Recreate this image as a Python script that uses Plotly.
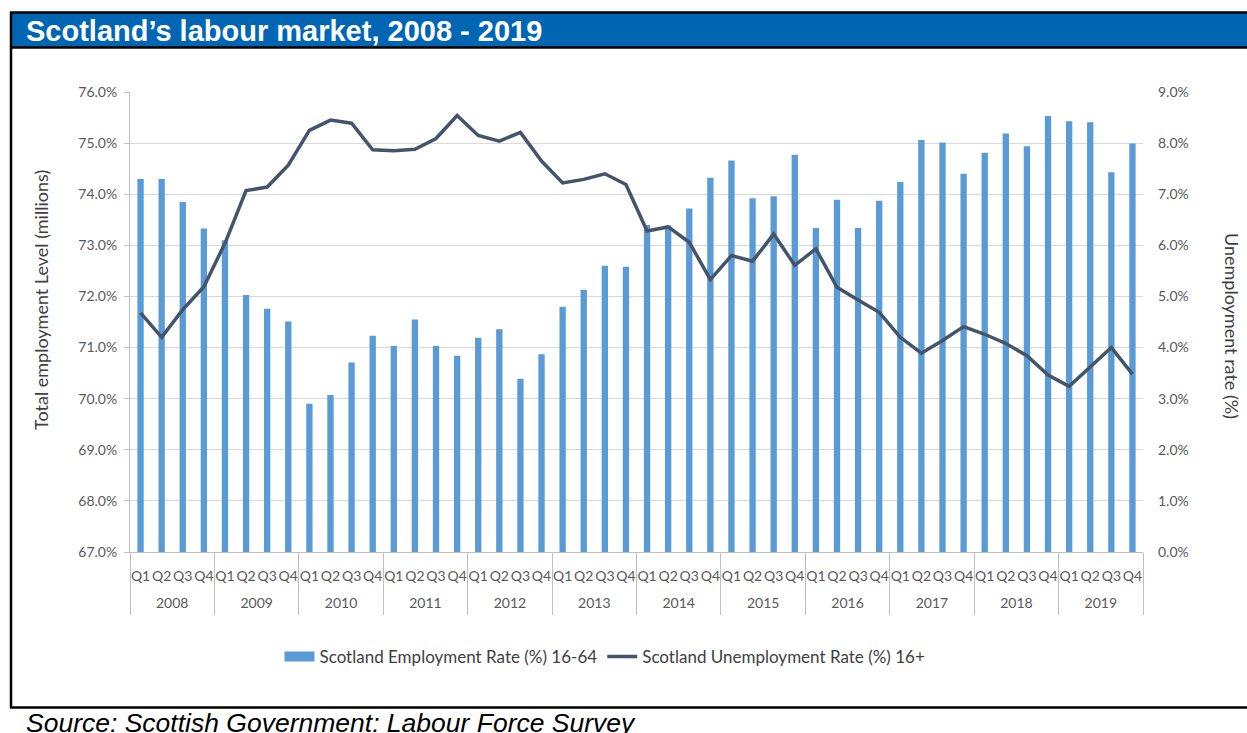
import plotly.graph_objects as go

years = [str(y) for y in range(2008, 2020)]
quarters = ["Q1", "Q2", "Q3", "Q4"]

employment_rate = [
    74.30, 74.30, 73.85, 73.33,
    73.10, 72.03, 71.76, 71.51,
    69.90, 70.07, 70.71, 71.23,
    71.03, 71.55, 71.03, 70.84,
    71.19, 71.36, 70.39, 70.87,
    71.80, 72.13, 72.60, 72.58,
    73.40, 73.39, 73.72, 74.32,
    74.66, 73.92, 73.96, 74.77,
    73.34, 73.89, 73.34, 73.87,
    74.24, 75.06, 75.01, 74.40,
    74.81, 75.19, 74.94, 75.53,
    75.43, 75.41, 74.43, 74.99,
]

unemployment_rate = [
    4.68, 4.20, 4.74, 5.19,
    6.04, 7.07, 7.14, 7.57,
    8.25, 8.45, 8.39, 7.87,
    7.85, 7.88, 8.09, 8.54,
    8.15, 8.04, 8.21, 7.65,
    7.22, 7.29, 7.40, 7.19,
    6.28, 6.36, 6.06, 5.33,
    5.80, 5.69, 6.22, 5.61,
    5.93, 5.18, 4.93, 4.69,
    4.20, 3.89, 4.14, 4.41,
    4.26, 4.08, 3.84, 3.46,
    3.24, 3.63, 4.00, 3.48,
]

# one unique category per quarter; displayed with the quarter label only
categories = [f"{y} {q}" for y in years for q in quarters]
quarter_labels = [q for y in years for q in quarters]
n_cat = len(categories)
nq = len(quarters)
# year label centres and year boundaries in category-index units
year_centres = [i * nq + (nq - 1) / 2 for i in range(len(years))]
year_bounds = [i * nq - 0.5 for i in range(len(years) + 1)]

EMP_NAME = "Scotland Employment Rate (%) 16-64"
UNEMP_NAME = "Scotland Unemployment Rate (%) 16+"
BAR_COLOR = "#5B9BD5"
LINE_COLOR = "#44546A"
AXIS_GREY = "#BFBFBF"

W, H = 1247, 733
L, R, T, B = 130, 1143, 92, 552


def px(x):
    return (x - L) / (R - L)


def py(y):
    return (B - y) / (B - T)


fig = go.Figure()
fig.add_trace(go.Bar(
    x=categories, y=employment_rate,
    name=EMP_NAME, showlegend=False,
    marker=dict(color=BAR_COLOR, line=dict(width=0)),
    width=0.3, xaxis="x", yaxis="y",
))
# legend-only entry giving the wide rectangular swatch of the bar series
fig.add_trace(go.Scatter(
    x=[year_centres[0]], y=[None],
    name=EMP_NAME, mode="lines", line=dict(color=BAR_COLOR, width=10),
    xaxis="x2", yaxis="y", hoverinfo="skip",
))
fig.add_trace(go.Scatter(
    x=categories, y=unemployment_rate,
    name=UNEMP_NAME,
    mode="lines", line=dict(color=LINE_COLOR, width=3.5),
    xaxis="x", yaxis="y2",
))

axis_font = dict(family="Lato", size=14, color="#595959")

shapes = [
    dict(type="rect", xref="paper", yref="paper", x0=px(11), x1=px(1260), y0=py(13), y1=py(47),
         fillcolor="#0066B3", line=dict(width=0), layer="above"),
    dict(type="line", xref="paper", yref="paper", x0=px(10), x1=px(1260), y0=py(12.5), y1=py(12.5),
         line=dict(color="black", width=2.5)),
    dict(type="line", xref="paper", yref="paper", x0=px(10), x1=px(1260), y0=py(47.5), y1=py(47.5),
         line=dict(color="black", width=2.5)),
    dict(type="line", xref="paper", yref="paper", x0=px(11), x1=px(11), y0=py(12), y1=py(708),
         line=dict(color="black", width=2.5)),
    dict(type="line", xref="paper", yref="paper", x0=px(10), x1=px(1260), y0=py(707.5), y1=py(707.5),
         line=dict(color="black", width=2.5)),
]

annotations = [
    dict(text="<b>Scotland’s labour market, 2008 - 2019</b>", xref="paper", yref="paper",
         x=px(24), y=py(31), xanchor="left", yanchor="middle", showarrow=False,
         font=dict(family="Liberation Sans", size=29, color="white")),
    dict(text="<i>Source: Scottish Government: Labour Force Survey</i>", xref="paper", yref="paper",
         x=px(24), y=py(706), xanchor="left", yanchor="top", showarrow=False,
         font=dict(family="Liberation Sans", size=26.5, color="black")),
    dict(text="Total employment Level (millions)", xref="paper", yref="paper",
         x=px(41), y=py(300), xanchor="center", yanchor="middle", textangle=-90, showarrow=False,
         font=dict(family="Lato", size=18, color="#404040")),
    dict(text="Unemployment rate (%)", xref="paper", yref="paper",
         x=px(1232), y=py(326), xanchor="center", yanchor="middle", textangle=90, showarrow=False,
         font=dict(family="Lato", size=18, color="#404040")),
]

fig.update_layout(
    width=W, height=H,
    margin=dict(l=L, r=W - R, t=T, b=H - B, pad=0),
    paper_bgcolor="white", plot_bgcolor="white",
    showlegend=True,
    legend=dict(orientation="h", x=px(605), y=py(657), xanchor="center", yanchor="middle",
                font=dict(family="Lato", size=17, color="#404040"), bgcolor="rgba(0,0,0,0)",
                itemwidth=30, tracegroupgap=0),
    xaxis=dict(type="category", range=[-0.5, n_cat - 0.5],
               tickmode="array", tickvals=categories, ticktext=quarter_labels,
               showline=True, linecolor=AXIS_GREY, linewidth=1,
               tickfont=axis_font, tickangle=0, showgrid=False, ticks="",
               ticklabelstandoff=11),
    xaxis2=dict(type="linear", overlaying="x", anchor="y", side="bottom",
                range=[-0.5, n_cat - 0.5],
                tickmode="array", tickvals=year_centres, ticktext=years,
                tickfont=axis_font, tickangle=0, showgrid=False, zeroline=False,
                showline=False, ticks="", ticklabelstandoff=41,
                minor=dict(tickmode="array", tickvals=year_bounds, ticks="outside",
                           ticklen=62, tickcolor=AXIS_GREY, tickwidth=1, showgrid=False)),
    yaxis=dict(range=[67, 76], dtick=1, tick0=67, tickformat=".1f", ticksuffix="%",
               showgrid=True, gridcolor="#D9D9D9", gridwidth=1, zeroline=False,
               showline=True, linecolor=AXIS_GREY, linewidth=1,
               ticks="outside", ticklen=5, tickcolor=AXIS_GREY, tickfont=axis_font,
               ticklabelstandoff=4),
    yaxis2=dict(range=[0, 9], dtick=1, tick0=0, tickformat=".1f", ticksuffix="%",
                overlaying="y", side="right", showgrid=False, zeroline=False,
                showline=False, ticks="", tickfont=axis_font, ticklabelstandoff=14),
    shapes=shapes,
    annotations=annotations,
)

fig.write_html("out.html", config={"displayModeBar": False},
               post_script="document.body.style.margin='0';")
